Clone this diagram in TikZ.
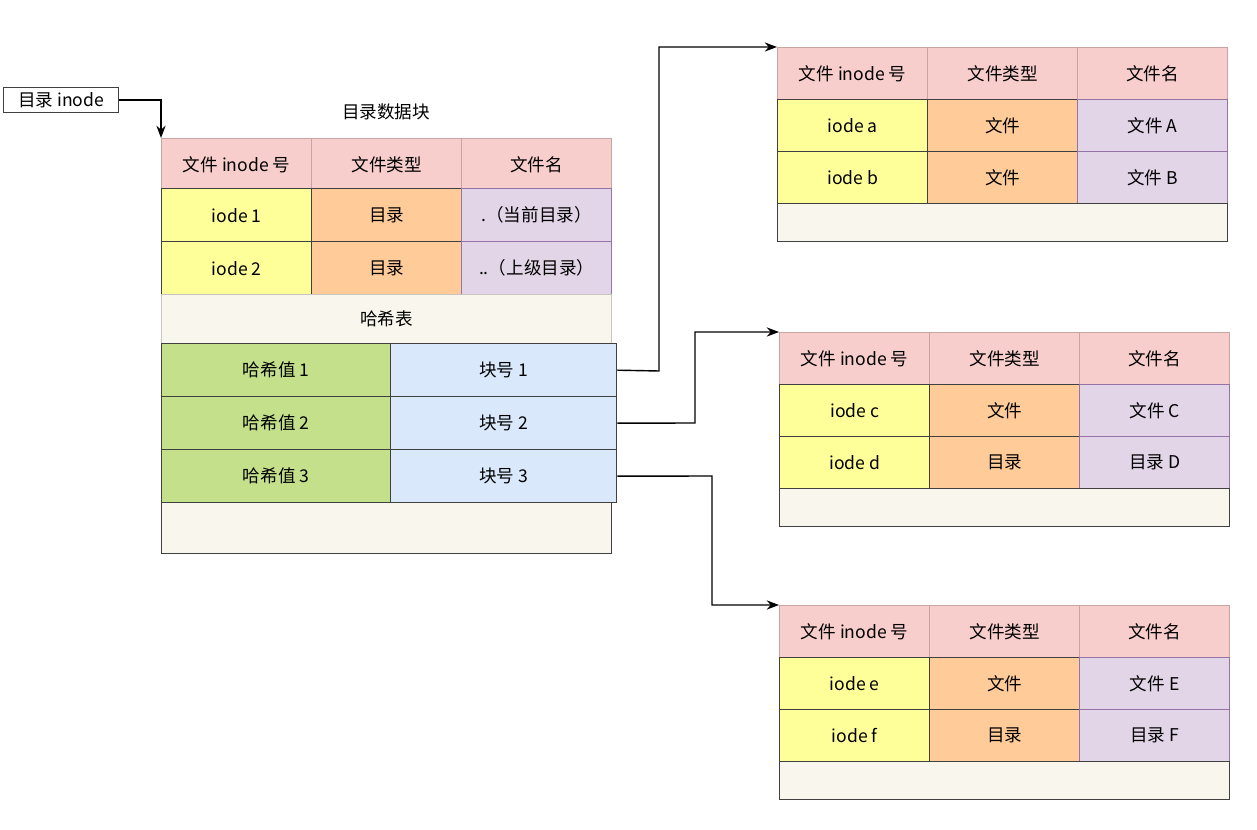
\documentclass[tikz,border=0pt]{standalone}
\usepackage{fontspec}
\setmainfont{Noto Sans CJK SC}
\usetikzlibrary{arrows.meta}
\definecolor{hdr}{HTML}{F8CECC}
\definecolor{yel}{HTML}{FFFF99}
\definecolor{ora}{HTML}{FFCC99}
\definecolor{pur}{HTML}{E1D5E7}
\definecolor{gre}{HTML}{C5E08A}
\definecolor{blu}{HTML}{DAE8FC}
\definecolor{bei}{HTML}{F9F7ED}
\definecolor{purd}{HTML}{9673A6}
\tikzset{
 cell/.style={draw=black!75,thick,anchor=north west,inner sep=0pt,font=\fontsize{10}{12}\selectfont,minimum width=3cm,minimum height=1.04cm},
 arr/.style={draw,-{Stealth[length=7pt]},thick}
}
\newcommand\mytab[9]{%
 \node[cell,fill=hdr,draw=hdr!80!black] (#9h1) at (#1,#2) {文件 inode 号};
 \node[cell,fill=hdr,draw=hdr!80!black] (#9h2) at (#1+150,#2) {文件类型};
 \node[cell,fill=hdr,draw=hdr!80!black] (#9h3) at (#1+300,#2) {文件名};
 \node[cell,fill=yel] (#9a1) at (#1,#2+52) {#3};
 \node[cell,fill=ora] (#9a2) at (#1+150,#2+52) {#4};
 \node[cell,fill=pur,draw=purd] (#9a3) at (#1+300,#2+52) {#5};
 \node[cell,fill=yel] (#9b1) at (#1,#2+104) {#6};
 \node[cell,fill=ora] (#9b2) at (#1+150,#2+104) {#7};
 \node[cell,fill=pur,draw=purd] (#9b3) at (#1+300,#2+104) {#8};
 \node[cell,fill=bei,minimum width=9cm,minimum height=0.76cm] (#9z) at (#1,#2+156) {};
}
\begin{document}
\begin{tikzpicture}[x=0.02cm,y=-0.02cm]
\useasboundingbox (0,0) rectangle (1257,830);
% inode box
\node[cell,fill=white,minimum width=2.3cm,minimum height=0.5cm] (ino) at (3,87) {目录 inode};
\node[font=\fontsize{10}{12}\selectfont] (title) at (386,112) {目录数据块};
% main table
\node[cell,fill=hdr,draw=hdr!80!black] (mh1) at (161,138) {文件 inode 号};
\node[cell,fill=hdr,draw=hdr!80!black] (mh2) at (311,138) {文件类型};
\node[cell,fill=hdr,draw=hdr!80!black] (mh3) at (461,138) {文件名};
\node[cell,fill=yel,minimum height=1.06cm] (m11) at (161,188) {iode 1};
\node[cell,fill=ora,minimum height=1.06cm] (m12) at (311,188) {目录};
\node[cell,fill=pur,draw=purd,minimum height=1.06cm] (m13) at (461,188) {.（当前目录）};
\node[cell,fill=yel,minimum height=1.06cm] (m21) at (161,241) {iode 2};
\node[cell,fill=ora,minimum height=1.06cm] (m22) at (311,241) {目录};
\node[cell,fill=pur,draw=purd,minimum height=1.06cm] (m23) at (461,241) {..（上级目录）};
\node[cell,fill=bei,draw=bei!80!black,minimum width=9cm,minimum height=0.98cm] (hash) at (161,294) {哈希表};
\node[cell,fill=gre,minimum width=4.58cm,minimum height=1.06cm] (hv1) at (161,343) {哈希值 1};
\node[cell,fill=blu,minimum width=4.52cm,minimum height=1.06cm] (bk1) at (390,343) {块号 1};
\node[cell,fill=gre,minimum width=4.58cm,minimum height=1.06cm] (hv2) at (161,396) {哈希值 2};
\node[cell,fill=blu,minimum width=4.52cm,minimum height=1.06cm] (bk2) at (390,396) {块号 2};
\node[cell,fill=gre,minimum width=4.58cm,minimum height=1.06cm] (hv3) at (161,449) {哈希值 3};
\node[cell,fill=blu,minimum width=4.52cm,minimum height=1.06cm] (bk3) at (390,449) {块号 3};
\node[cell,fill=bei,minimum width=9cm,minimum height=1.02cm] (mz) at (161,502) {};
% right tables
\mytab{777}{47}{iode a}{文件}{文件 A}{iode b}{文件}{文件 B}{ta}
\mytab{779}{332}{iode c}{文件}{文件 C}{iode d}{目录}{目录 D}{tb}
\mytab{779}{605}{iode e}{文件}{文件 E}{iode f}{目录}{目录 F}{tc}
% arrows
\draw[arr] (ino.east) -| (mh1.north west);
\draw[arr] (bk1.east) -- (659,371) |- (tah1.north west);
\draw[arr] (bk2.east) -- (695,423) |- (tbh1.north west);
\draw[arr] (bk3.east) -- (712,476) |- (tch1.north west);
\end{tikzpicture}
\end{document}
